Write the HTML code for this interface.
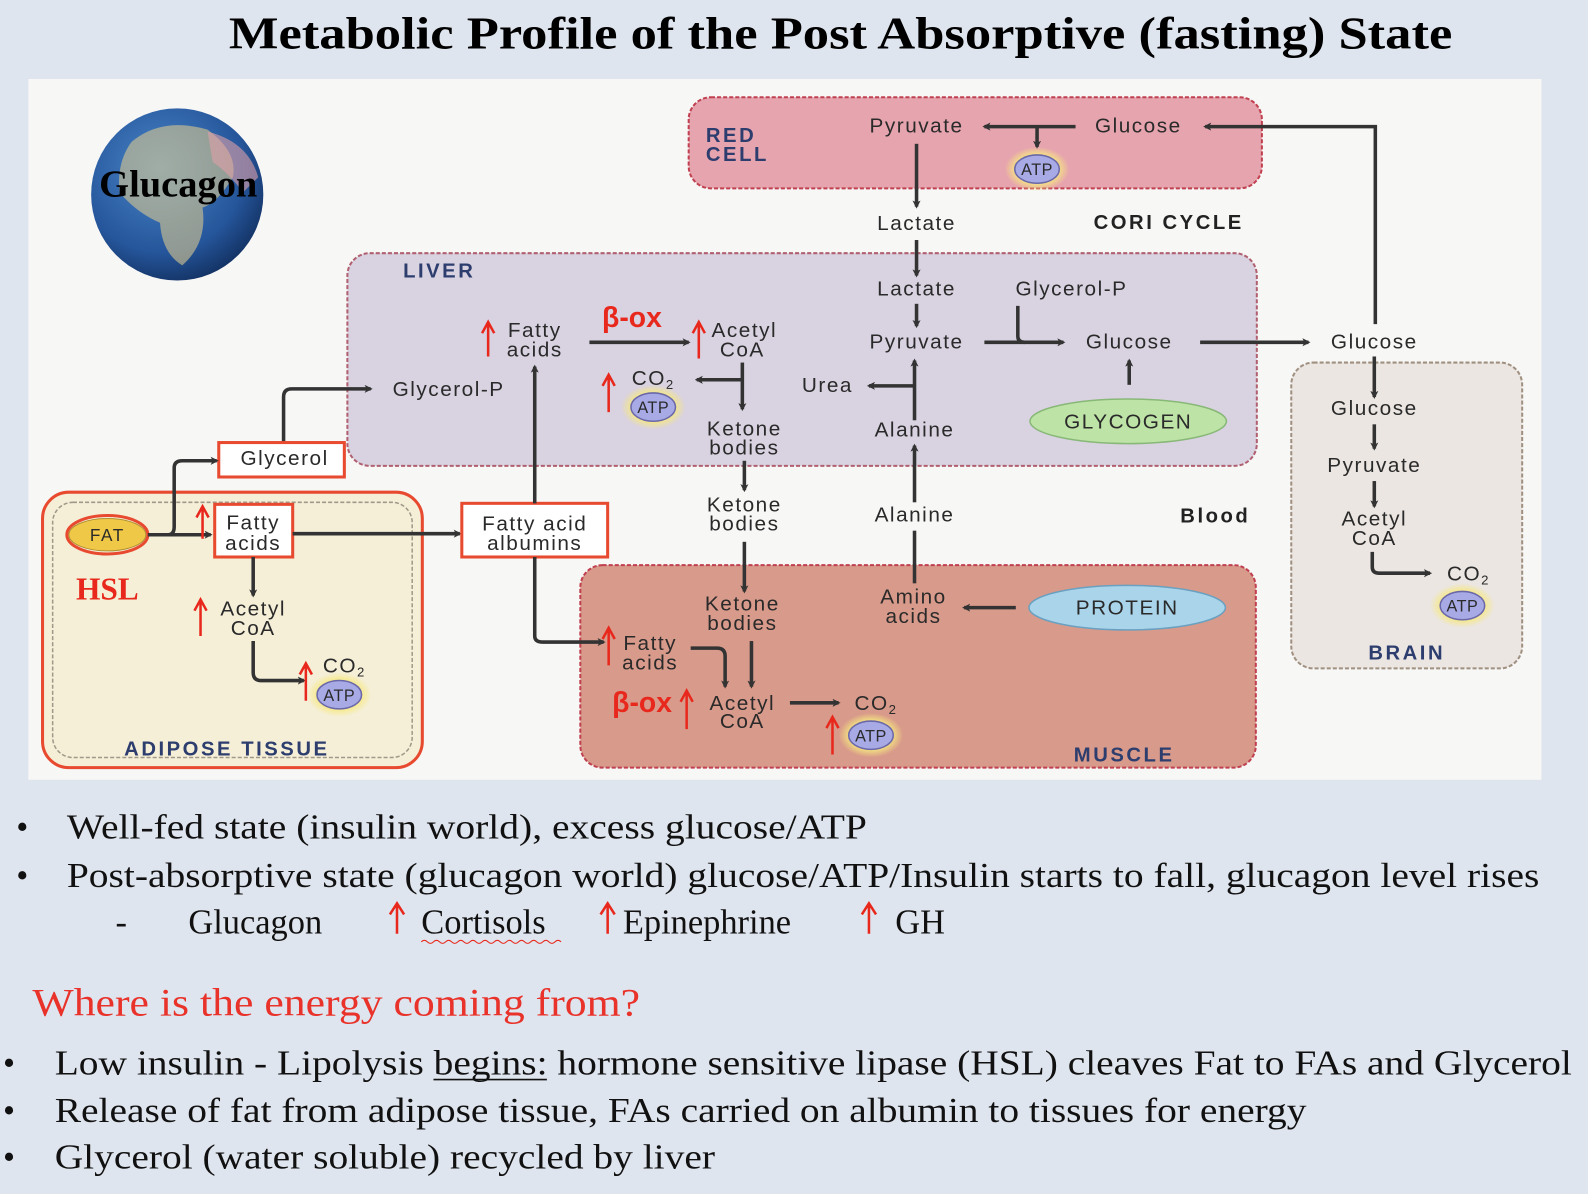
<!DOCTYPE html>
<html><head><meta charset="utf-8"><style>
html,body{margin:0;padding:0;background:#dfe5ee;}
svg{display:block}
.d{font-family:"Liberation Sans",sans-serif;font-size:20.5px;letter-spacing:1.5px;fill:#2a2a2a;text-anchor:middle}
.lb{font-family:"Liberation Sans",sans-serif;font-weight:bold;font-size:20px;letter-spacing:2.5px;fill:#2c3d6e;text-anchor:middle}
.s{font-family:"Liberation Serif",serif;font-size:34px;fill:#111}
.ar{stroke:#333;stroke-width:3.5;fill:none}
.ra{stroke:#e8281c;stroke-width:2.5;fill:none}
</style></head><body>
<svg width="1588" height="1194" viewBox="0 0 1568 1179" preserveAspectRatio="none" xmlns="http://www.w3.org/2000/svg">
<defs>
<marker id="a" markerWidth="8" markerHeight="8" refX="6" refY="4" orient="auto" markerUnits="userSpaceOnUse"><path d="M0,0 L8,4 L0,8 L2,4z" fill="#333"/></marker>
<radialGradient id="g" cx="40%" cy="35%" r="70%"><stop offset="0" stop-color="#4a86c8"/><stop offset="0.7" stop-color="#25559a"/><stop offset="1" stop-color="#123060"/></radialGradient>
<radialGradient id="glow"><stop offset="0.6" stop-color="#f6e880"/><stop offset="1" stop-color="#f6e880" stop-opacity="0"/></radialGradient>
<g id="atp"><ellipse cx="0" cy="0" rx="32" ry="22" fill="url(#glow)"/><ellipse cx="0" cy="0" rx="22" ry="14" fill="#a8aae6" stroke="#6a68a8" stroke-width="1.5"/><text x="0" y="6" class="d" style="font-size:16px;letter-spacing:0.5px">ATP</text></g>
</defs>
<rect x="0" y="0" width="1568" height="1179" fill="#dfe5ee"/>
<text x="830" y="48" text-anchor="middle" style="font-family:'Liberation Serif',serif;font-weight:bold;font-size:45px;fill:#000" textLength="1208" lengthAdjust="spacingAndGlyphs">Metabolic Profile of the Post Absorptive (fasting) State</text>
<rect x="28" y="78" width="1494" height="692" fill="#f7f7f6"/>

<!-- globe -->
<circle cx="175" cy="192" r="85" fill="url(#g)"/>
<path d="M130,140 Q160,115 205,128 Q235,150 230,175 Q215,200 200,205 Q205,240 180,262 Q160,250 158,220 Q135,210 118,190 Q115,160 130,140z" fill="#d8c890" opacity="0.6"/>
<path d="M205,130 Q245,140 255,175 L240,190 Q225,170 210,160z" fill="#e0a0a8" opacity="0.6"/>
<text x="176" y="194" text-anchor="middle" style="font-family:'Liberation Serif',serif;font-weight:bold;font-size:38px;fill:#000">Glucagon</text>

<!-- regions -->
<rect x="680" y="96" width="566" height="90" rx="22" fill="#e6a4ae" stroke="#c04050" stroke-width="2" stroke-dasharray="4,2"/>
<rect x="343" y="250" width="898" height="210" rx="22" fill="#d9d2e0" stroke="#b06070" stroke-width="2" stroke-dasharray="4,2"/>
<rect x="1275" y="358" width="228" height="302" rx="22" fill="#ebe6e2" stroke="#a09080" stroke-width="2" stroke-dasharray="4,2"/>
<rect x="573" y="558" width="667" height="200" rx="22" fill="#d89a8a" stroke="#c04050" stroke-width="2" stroke-dasharray="4,2"/>
<rect x="42" y="486" width="375" height="272" rx="26" fill="#f5efd8" stroke="#e84a30" stroke-width="3"/>
<rect x="52" y="496" width="355" height="252" rx="20" fill="none" stroke="#a09888" stroke-width="1.5" stroke-dasharray="4,2"/>

<!-- red cell -->
<text x="697" y="140" class="lb" style="text-anchor:start">RED</text>
<text x="697" y="159" class="lb" style="text-anchor:start">CELL</text>
<text x="905" y="131" class="d">Pyruvate</text>
<text x="1124" y="131" class="d">Glucose</text>
<path d="M1062,125 H972" class="ar" marker-end="url(#a)"/>
<path d="M1024,125 V145" class="ar" marker-end="url(#a)"/>
<use href="#atp" x="1024" y="167"/>
<path d="M1358,320 V125 H1190" class="ar" marker-end="url(#a)"/>
<path d="M905,142 V204" class="ar" marker-end="url(#a)"/>
<text x="905" y="227" class="d">Lactate</text>
<text x="1154" y="226" class="lb" style="fill:#222">CORI CYCLE</text>
<path d="M905,237 V272" class="ar" marker-end="url(#a)"/>

<!-- liver -->
<text x="398" y="274" class="lb" style="text-anchor:start">LIVER</text>
<text x="905" y="292" class="d">Lactate</text>
<path d="M905,300 V322" class="ar" marker-end="url(#a)"/>
<text x="905" y="344" class="d">Pyruvate</text>
<text x="1058" y="292" class="d">Glycerol-P</text>
<path d="M1005,302 V332 Q1005,338 1012,338" class="ar"/>
<path d="M972,338 H1050" class="ar" marker-end="url(#a)"/>
<text x="1115" y="344" class="d">Glucose</text>
<path d="M1115,380 V356" class="ar" marker-end="url(#a)"/>
<ellipse cx="1114" cy="416" rx="97" ry="22" fill="#bde3a6" stroke="#88b878" stroke-width="1.5"/>
<text x="1114" y="423" class="d">GLYCOGEN</text>
<path d="M1185,338 H1292" class="ar" marker-end="url(#a)"/>
<text x="1357" y="344" class="d">Glucose</text>
<path d="M903,415 V356" class="ar" marker-end="url(#a)"/>
<path d="M903,381 H858" class="ar" marker-end="url(#a)"/>
<text x="817" y="387" class="d">Urea</text>
<text x="903" y="431" class="d">Alanine</text>
<text x="528" y="333" class="d">Fatty</text>
<text x="528" y="352" class="d">acids</text>
<text x="624" y="323" style="font-family:'Liberation Sans',sans-serif;font-weight:bold;font-size:28px;fill:#e8281c;text-anchor:middle">β-ox</text>
<path d="M582,338 H680" class="ar" marker-end="url(#a)"/>
<text x="735" y="333" class="d">Acetyl</text>
<text x="733" y="352" class="d">CoA</text>
<path d="M733,358 V404" class="ar" marker-end="url(#a)"/>
<path d="M733,375 H688" class="ar" marker-end="url(#a)"/>
<text x="645" y="380" class="d">CO<tspan style="font-size:13px" dy="4">2</tspan></text>
<use href="#atp" x="645" y="402"/>
<text x="735" y="430" class="d">Ketone</text>
<text x="735" y="449" class="d">bodies</text>
<path d="M735,455 V484" class="ar" marker-end="url(#a)"/>
<text x="443" y="391" class="d">Glycerol-P</text>

<!-- blood -->
<text x="735" y="505" class="d">Ketone</text>
<text x="735" y="524" class="d">bodies</text>
<path d="M735,535 V584" class="ar" marker-end="url(#a)"/>
<text x="903" y="515" class="d">Alanine</text>
<path d="M903,496 V440" class="ar" marker-end="url(#a)"/>
<path d="M903,576 V524" class="ar"/>
<text x="1200" y="516" class="lb" style="fill:#222">Blood</text>

<!-- adipose connections -->
<path d="M280,438 V392 Q280,384 288,384 H366" class="ar" marker-end="url(#a)"/>
<rect x="216" y="437" width="124" height="34" fill="#fff" stroke="#e84a30" stroke-width="3"/>
<text x="281" y="459" class="d">Glycerol</text>
<ellipse cx="106" cy="528" rx="38" ry="16" fill="#f0c848" stroke="#b09030" stroke-width="1"/>
<ellipse cx="106" cy="528" rx="40" ry="19" fill="none" stroke="#e84a30" stroke-width="3"/>
<text x="106" y="534" class="d" style="font-size:17px">FAT</text>
<path d="M146,528 H208" class="ar" marker-end="url(#a)"/>
<path d="M166,528 Q172,528 172,520 V462 Q172,455 180,455 H214" class="ar" marker-end="url(#a)"/>
<rect x="212" y="498" width="77" height="52" fill="#fff" stroke="#e84a30" stroke-width="3"/>
<text x="250" y="523" class="d">Fatty</text>
<text x="250" y="543" class="d">acids</text>
<path d="M289,527 H454" class="ar" marker-end="url(#a)"/>
<rect x="456" y="497" width="144" height="53" fill="#fff" stroke="#e84a30" stroke-width="3"/>
<text x="528" y="524" class="d">Fatty acid</text>
<text x="528" y="543" class="d">albumins</text>
<path d="M528,497 V362" class="ar" marker-end="url(#a)"/>
<path d="M528,550 V628 Q528,634 536,634 H596" class="ar" marker-end="url(#a)"/>
<text x="106" y="592" text-anchor="middle" style="font-family:'Liberation Serif',serif;font-weight:bold;font-size:31px;fill:#e8281c">HSL</text>
<path d="M250,550 V588" class="ar" marker-end="url(#a)"/>
<text x="250" y="608" class="d">Acetyl</text>
<text x="250" y="627" class="d">CoA</text>
<path d="M250,633 V664 Q250,672 258,672 H300" class="ar" marker-end="url(#a)"/>
<text x="340" y="664" class="d">CO<tspan style="font-size:13px" dy="4">2</tspan></text>
<use href="#atp" x="335" y="686"/>
<text x="224" y="746" class="lb">ADIPOSE TISSUE</text>

<!-- muscle -->
<text x="733" y="603" class="d">Ketone</text>
<text x="733" y="622" class="d">bodies</text>
<text x="902" y="596" class="d">Amino</text>
<text x="902" y="615" class="d">acids</text>
<ellipse cx="1113" cy="600" rx="97" ry="22" fill="#aad4ea" stroke="#6aa0c0" stroke-width="1.5"/>
<text x="1113" y="607" class="d">PROTEIN</text>
<path d="M1003,600 H952" class="ar" marker-end="url(#a)"/>
<text x="642" y="642" class="d">Fatty</text>
<text x="642" y="661" class="d">acids</text>
<path d="M682,640 H708 Q716,640 716,648 V678" class="ar" marker-end="url(#a)"/>
<path d="M742,633 V678" class="ar" marker-end="url(#a)"/>
<text x="634" y="703" style="font-family:'Liberation Sans',sans-serif;font-weight:bold;font-size:28px;fill:#e8281c;text-anchor:middle">β-ox</text>
<text x="733" y="701" class="d">Acetyl</text>
<text x="733" y="719" class="d">CoA</text>
<path d="M780,694 H828" class="ar" marker-end="url(#a)"/>
<text x="865" y="701" class="d">CO<tspan style="font-size:13px" dy="4">2</tspan></text>
<use href="#atp" x="860" y="726"/>
<text x="1110" y="752" class="lb">MUSCLE</text>

<!-- red up arrows -->
<path class="ra" d="M482,352 V318 M476,329 L482,318 L488,329
M690,354 V318 M684,329 L690,318 L696,329
M601,407 V370 M595,381 L601,370 L607,381
M200,532 V500 M194,511 L200,500 L206,511
M198,628 V592 M192,603 L198,592 L204,603
M302,692 V655 M296,666 L302,655 L308,666
M601,657 V620 M595,631 L601,620 L607,631
M678,720 V682 M672,693 L678,682 L684,693
M822,745 V708 M816,719 L822,708 L828,719"/>

<!-- brain -->
<path d="M1357,352 V392" class="ar" marker-end="url(#a)"/>
<text x="1357" y="410" class="d">Glucose</text>
<path d="M1357,419 V443" class="ar" marker-end="url(#a)"/>
<text x="1357" y="466" class="d">Pyruvate</text>
<path d="M1357,475 V500" class="ar" marker-end="url(#a)"/>
<text x="1357" y="519" class="d">Acetyl</text>
<text x="1357" y="538" class="d">CoA</text>
<path d="M1355,545 V560 Q1355,566 1362,566 H1412" class="ar" marker-end="url(#a)"/>
<text x="1450" y="573" class="d">CO<tspan style="font-size:13px" dy="4">2</tspan></text>
<use href="#atp" x="1444" y="598"/>
<text x="1389" y="651" class="lb">BRAIN</text>

<!-- bullets -->
<text x="16" y="828" class="s">•</text>
<text x="66" y="828" class="s" textLength="790" lengthAdjust="spacingAndGlyphs">Well-fed state (insulin world), excess glucose/ATP</text>
<text x="16" y="876" class="s">•</text>
<text x="66" y="876" class="s" textLength="1454" lengthAdjust="spacingAndGlyphs">Post-absorptive state (glucagon world) glucose/ATP/Insulin starts to fall, glucagon level rises</text>
<text x="114" y="922" class="s">-</text>
<text x="186" y="922" class="s">Glucagon</text>
<path class="ra" d="M392,922 V892 M385,903 L392,892 L399,903 M600,922 V892 M593,903 L600,892 L607,903 M858,922 V892 M851,903 L858,892 L865,903"/>
<text x="416" y="922" class="s">Cortisols</text>
<path d="M416,930 q3,-3 6,0 t6,0 t6,0 t6,0 t6,0 t6,0 t6,0 t6,0 t6,0 t6,0 t6,0 t6,0 t6,0 t6,0 t6,0 t6,0 t6,0 t6,0 t6,0 t6,0 t6,0 t6,0 t6,0" stroke="#e8281c" stroke-width="1" fill="none"/>
<text x="615" y="922" class="s">Epinephrine</text>
<text x="884" y="922" class="s">GH</text>
<text x="32" y="1003" style="font-family:'Liberation Serif',serif;font-size:39px;fill:#e8322a" textLength="600" lengthAdjust="spacingAndGlyphs">Where is the energy coming from?</text>
<text x="3" y="1061" class="s">•</text>
<text x="54" y="1061" class="s" textLength="1498" lengthAdjust="spacingAndGlyphs">Low insulin - Lipolysis begins: hormone sensitive lipase (HSL) cleaves Fat to FAs and Glycerol</text>
<line x1="428" y1="1066" x2="540" y2="1066" stroke="#111" stroke-width="1.5"/>
<text x="3" y="1108" class="s">•</text>
<text x="54" y="1108" class="s" textLength="1236" lengthAdjust="spacingAndGlyphs">Release of fat from adipose tissue, FAs carried on albumin to tissues for energy</text>
<text x="3" y="1154" class="s">•</text>
<text x="54" y="1154" class="s" textLength="652" lengthAdjust="spacingAndGlyphs">Glycerol (water soluble) recycled by liver</text>
</svg>
</body></html>
